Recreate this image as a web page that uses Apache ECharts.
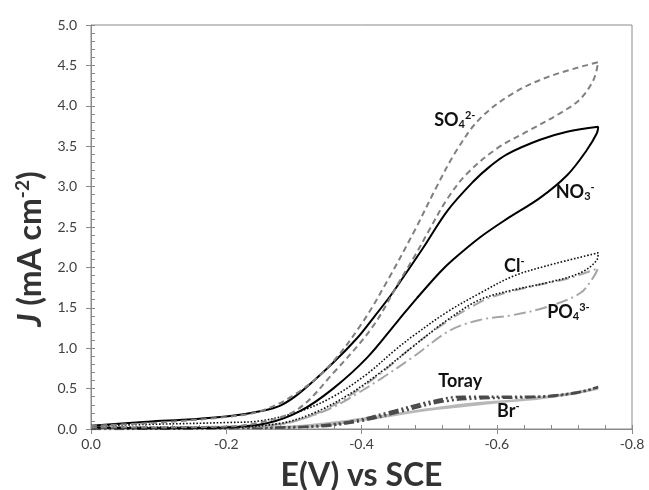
<!DOCTYPE html>
<html><head><meta charset="utf-8">
<script src="https://cdn.jsdelivr.net/npm/echarts@6/dist/echarts.min.js"></script>
<style>html,body{margin:0;padding:0;background:#fff}#c{width:649px;height:490px}</style>
</head><body><div id="c"></div>
<script>
// X ticks (potential, V vs SCE) and Y ticks (mA cm^-2)
const xTicks = [0.0, -0.2, -0.4, -0.6, -0.8];
const yTicks = [0.0, 0.5, 1.0, 1.5, 2.0, 2.5, 3.0, 3.5, 4.0, 4.5, 5.0];

// Cyclic voltammograms: [E, J] going out along one branch and back along the other
const so4 = [[0,0.04],[-0.1,0.08],[-0.2,0.15],[-0.25,0.22],[-0.3,0.42],[-0.35,0.76],[-0.4,1.3],[-0.44,1.86],[-0.48,2.48],[-0.51,2.98],[-0.54,3.44],[-0.575,3.84],[-0.625,4.16],[-0.68,4.37],[-0.75,4.54],
  [-0.743,4.32],[-0.723,4.08],[-0.694,3.91],[-0.649,3.7],[-0.6,3.47],[-0.556,3.16],[-0.527,2.85],[-0.5,2.46],[-0.48,2.16],[-0.457,1.84],[-0.416,1.26],[-0.358,0.69],[-0.305,0.24],[-0.25,0.08],[-0.2,0.03],[-0.1,0.02],[0,0.02]];
const no3 = [[0,0.04],[-0.083,0.09],[-0.15,0.12],[-0.206,0.16],[-0.25,0.22],[-0.28,0.29],[-0.309,0.45],[-0.358,0.82],[-0.393,1.12],[-0.417,1.37],[-0.442,1.64],[-0.457,1.82],[-0.491,2.24],[-0.527,2.7],[-0.565,3.06],[-0.59,3.25],[-0.615,3.4],[-0.664,3.58],[-0.704,3.68],[-0.75,3.74],
  [-0.748,3.66],[-0.733,3.45],[-0.704,3.14],[-0.664,2.86],[-0.615,2.6],[-0.575,2.37],[-0.536,2.1],[-0.516,1.94],[-0.482,1.62],[-0.453,1.33],[-0.408,0.88],[-0.358,0.5],[-0.309,0.22],[-0.26,0.07],[-0.2,0.02],[-0.1,0.01],[0,0.02]];
const cl = [[0,0.04],[-0.1,0.06],[-0.2,0.08],[-0.25,0.1],[-0.309,0.22],[-0.358,0.4],[-0.408,0.68],[-0.45,0.98],[-0.476,1.15],[-0.527,1.45],[-0.575,1.68],[-0.624,1.89],[-0.674,2.02],[-0.75,2.18],
  [-0.748,2.09],[-0.723,1.93],[-0.674,1.81],[-0.624,1.72],[-0.575,1.6],[-0.527,1.35],[-0.476,1.02],[-0.428,0.7],[-0.38,0.42],[-0.33,0.2],[-0.28,0.07],[-0.2,0.02],[0,0.02]];
const po4 = [[0,0.02],[-0.2,0.03],[-0.28,0.06],[-0.33,0.18],[-0.38,0.4],[-0.43,0.7],[-0.48,1.05],[-0.53,1.35],[-0.575,1.57],[-0.595,1.64],[-0.649,1.76],[-0.704,1.86],[-0.75,1.99],
  [-0.743,1.88],[-0.723,1.68],[-0.674,1.51],[-0.624,1.41],[-0.575,1.35],[-0.531,1.22],[-0.476,0.89],[-0.432,0.64],[-0.39,0.42],[-0.358,0.27],[-0.31,0.12],[-0.25,0.03],[0,0.01]];
const toray = [[0,0.0],[-0.2,0.01],[-0.3,0.02],[-0.383,0.09],[-0.442,0.21],[-0.497,0.33],[-0.55,0.4],[-0.615,0.4],[-0.664,0.4],[-0.713,0.44],[-0.75,0.52],
  [-0.73,0.47],[-0.69,0.42],[-0.64,0.39],[-0.58,0.38],[-0.52,0.34],[-0.46,0.22],[-0.4,0.1],[-0.33,0.03],[0,0.0]];
const br = [[0,0.0],[-0.2,0.01],[-0.3,0.03],[-0.38,0.1],[-0.43,0.16],[-0.48,0.22],[-0.531,0.28],[-0.59,0.33],[-0.664,0.38],[-0.75,0.5],
  [-0.7,0.42],[-0.6,0.33],[-0.5,0.24],[-0.4,0.11],[-0.3,0.02],[0,0.0]];

// Curve labels (rich text) and their anchor points in data coordinates
const labelTexts = ['SO{sub|4}{sup|2-}', 'NO{sub|3}{sup|-}', 'Cl{sup|-}', 'PO{sub|4}{sup|3-}', 'Toray', 'Br{sup|-}'];
const labelAnchors = [[-0.538,3.82],[-0.716,2.93],[-0.626,2.02],[-0.706,1.45],[-0.546,0.59],[-0.617,0.22]];

const chart = echarts.init(document.getElementById('c'), null, {renderer:'canvas'});
const FONT = 'Lato, "Open Sans", sans-serif';
const fmt1 = v => (Math.abs(v) < 1e-9 ? 0 : v).toFixed(1);
const line = (name, data, color, width, type) => ({
  name, type:'line', data, xAxisIndex:0, yAxisIndex:0, smooth:0.35, symbol:'none',
  lineStyle:{color, width, type, cap:'butt'}, z:3
});

chart.setOption({
  animation:false,
  grid:{left:91, right:17, top:25, bottom:61, show:true, borderColor:'#8a8a8a', borderWidth:1,
        containLabel:false, outerBoundsMode:'none'},
  xAxis:[{
    type:'value', min:-0.8, max:0, interval:0.2, inverse:true, position:'bottom',
    name:'E(V) vs SCE', nameLocation:'middle', nameGap:31,
    nameTextStyle:{fontFamily:FONT, fontWeight:'bold', fontSize:32, color:'#333', padding:[0,0,0,0]},
    axisLine:{lineStyle:{color:'#8a8a8a', width:1}},
    axisTick:{show:true, inside:false, length:5, lineStyle:{color:'#8a8a8a'}},
    axisLabel:{formatter:fmt1, fontFamily:FONT, fontSize:14, color:'#404040', margin:8},
    splitLine:{show:false}
  },{
    type:'value', min:-0.8, max:0, interval:0.04, inverse:true, position:'bottom',
    axisLine:{show:false}, axisLabel:{show:false}, splitLine:{show:false},
    axisTick:{show:true, inside:true, length:4, lineStyle:{color:'#8a8a8a'}}
  }],
  yAxis:[{
    type:'value', min:0, max:5, interval:0.5, position:'left',
    name:'{i|J} (mA cm{sup|-2})', nameLocation:'middle', nameGap:34, nameRotate:90,
    nameTextStyle:{fontFamily:FONT, fontWeight:'bold', fontSize:32, color:'#333', padding:[0,44,0,0],
      rich:{i:{fontFamily:FONT, fontWeight:'bold', fontStyle:'italic', fontSize:32, color:'#333'},
            sup:{fontFamily:FONT, fontWeight:'bold', fontSize:19, color:'#333', verticalAlign:'top', padding:[0,0,16,0]}}},
    axisLine:{lineStyle:{color:'#8a8a8a', width:1}},
    axisTick:{show:true, inside:false, length:5, lineStyle:{color:'#8a8a8a'}},
    axisLabel:{formatter:fmt1, fontFamily:FONT, fontSize:14, color:'#404040', margin:14},
    splitLine:{show:false}
  },{
    type:'value', min:0, max:5, interval:0.1, position:'left',
    axisLine:{show:false}, axisLabel:{show:false}, splitLine:{show:false},
    axisTick:{show:true, inside:true, length:4, lineStyle:{color:'#8a8a8a'}}
  }],
  series:[
    line('Br-', br, '#b8b8b8', 2.5, 'solid'),
    line('Toray', toray, '#4a4a4a', 2.5, [10,3,2,3,2,3]),
    line('PO4 3-', po4, '#a6a6a6', 2, [12,4,2,4]),
    line('Cl-', cl, '#111', 1.6, [1.6,1.8]),
    line('NO3-', no3, '#000', 2, 'solid'),
    line('SO4 2-', so4, '#808080', 2, [6,4])
  ]
});

const rich = {
  sub:{fontFamily:FONT, fontWeight:'bold', fontSize:11, fill:'#111', padding:[7,0,0,0], verticalAlign:'bottom'},
  sup:{fontFamily:FONT, fontWeight:'bold', fontSize:11, fill:'#111', padding:[0,0,9,0], verticalAlign:'top'}
};
const g = labelTexts.map((t, i) => {
  const p = chart.convertToPixel({xAxisIndex:0, yAxisIndex:0}, labelAnchors[i]);
  return {type:'text', x:p[0], y:p[1], z:10,
    style:{text:t, fill:'#111', font:'bold 18px ' + FONT, textAlign:'center', textVerticalAlign:'middle', rich}};
});
chart.setOption({graphic:g});
</script></body></html>
